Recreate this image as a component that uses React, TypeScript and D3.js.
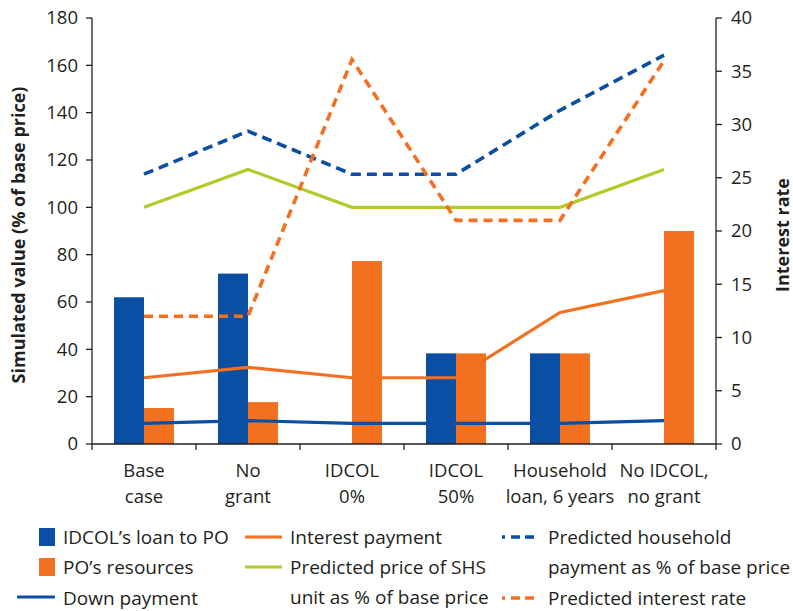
import React from 'react';
import * as d3 from 'd3';

const categories = ['Base case', 'No grant', 'IDCOL 0%', 'IDCOL 50%', 'Household loan, 6 years', 'No IDCOL, no grant'];
const categoryLines = [['Base', 'case'], ['No', 'grant'], ['IDCOL', '0%'], ['IDCOL', '50%'], ['Household', 'loan, 6 years'], ['No IDCOL,', 'no grant']];

const idcolLoan = [62, 72, 0, 38.3, 38.3, 0];
const poResources = [15.2, 17.7, 77.3, 38.3, 38.3, 90];
const interestPayment = [28, 32.4, 28, 28, 55.6, 64.8];
const downPayment = [8.7, 9.9, 8.7, 8.7, 8.7, 9.9];
const predictedPrice = [100, 116, 100, 100, 100, 116];
const householdPayment = [114, 132.2, 114, 114, 141, 164.3];
const interestRate = [12, 12, 36.1, 21, 21, 36]; // right axis

const leftTicks = d3.range(0, 181, 20);
const rightTicks = d3.range(0, 41, 5);

const BLUE = '#0a4fa3';
const ORANGE = '#f37021';
const GREEN = '#b5c92a';
const INK = '#231f20';
const FONT = '"Open Sans", sans-serif';

export default function App() {
  const W = 793, H = 611;
  const m = { top: 18, right: 77, bottom: 167, left: 92 };
  const x0 = m.left, x1 = W - m.right, yTop = m.top, yBot = H - m.bottom;

  const x = d3.scaleBand<string>().domain(categories).range([x0, x1]);
  const xSub = d3.scaleBand<string>().domain(['loan', 'po']).range([0, 60]);
  const yL = d3.scaleLinear().domain([0, 180]).range([yBot, yTop]);
  const yR = d3.scaleLinear().domain([0, 40]).range([yBot, yTop]);
  const cx = (c: string) => (x(c) ?? 0) + x.bandwidth() / 2;

  const lineL = d3.line<number>().x((_, i) => cx(categories[i])).y(d => yL(d));
  const lineR = d3.line<number>().x((_, i) => cx(categories[i])).y(d => yR(d));

  const barSeries = [
    { key: 'loan', vals: idcolLoan, color: BLUE },
    { key: 'po', vals: poResources, color: ORANGE },
  ];

  const lines = [
    { d: lineL(interestPayment), color: ORANGE, dash: undefined, w: 3.2 },
    { d: lineL(predictedPrice), color: GREEN, dash: undefined, w: 3.2 },
    { d: lineL(downPayment), color: BLUE, dash: undefined, w: 3.2 },
    { d: lineL(householdPayment), color: BLUE, dash: '10,6', w: 3.6 },
    { d: lineR(interestRate), color: ORANGE, dash: '9,6', w: 3.6 },
  ];

  const fs = 18.5;
  const lfs = 19;

  return (
    <svg width={W} height={H} style={{ position: 'absolute', left: 0, top: 0, background: '#fff' }} fontFamily={FONT}>
      {/* bars */}
      {categories.map(c => (
        <g key={c} transform={`translate(${cx(c) - 30},0)`}>
          {barSeries.map(s => {
            const v = s.vals[categories.indexOf(c)];
            if (!v) return null;
            return <rect key={s.key} x={xSub(s.key)} y={yL(v)} width={xSub.bandwidth()} height={yBot - yL(v)} fill={s.color} />;
          })}
        </g>
      ))}

      {/* lines */}
      {lines.map((l, i) => (
        <path key={i} d={l.d ?? ''} fill="none" stroke={l.color} strokeWidth={l.w} strokeDasharray={l.dash} />
      ))}

      {/* left axis */}
      <line x1={x0} x2={x0} y1={yTop} y2={yBot} stroke={INK} strokeWidth={1.3} />
      {leftTicks.map(t => (
        <g key={t}>
          <line x1={x0 - 6} x2={x0} y1={yL(t)} y2={yL(t)} stroke={INK} strokeWidth={1.3} />
          <text x={x0 - 14} y={yL(t)} dy="0.35em" textAnchor="end" fontSize={fs} fill={INK}>{t}</text>
        </g>
      ))}

      {/* right axis */}
      <line x1={x1} x2={x1} y1={yTop} y2={yBot} stroke={INK} strokeWidth={1.3} />
      {rightTicks.map(t => (
        <g key={t}>
          <line x1={x1} x2={x1 + 6} y1={yR(t)} y2={yR(t)} stroke={INK} strokeWidth={1.3} />
          <text x={x1 + 15} y={yR(t)} dy="0.35em" textAnchor="start" fontSize={fs} fill={INK}>{t}</text>
        </g>
      ))}

      {/* bottom axis */}
      <line x1={x0} x2={x1} y1={yBot} y2={yBot} stroke={INK} strokeWidth={1.3} />
      {[...categories.map(c => x(c) ?? 0), x1].map((p, i) => (
        <line key={i} x1={p} x2={p} y1={yBot} y2={yBot + 6} stroke={INK} strokeWidth={1.3} />
      ))}
      {categories.map((c, i) => (
        <text key={c} x={cx(c)} y={yBot + 33} textAnchor="middle" fontSize={fs} fill={INK}>
          <tspan x={cx(c)}>{categoryLines[i][0]}</tspan>
          <tspan x={cx(c)} dy={26}>{categoryLines[i][1]}</tspan>
        </text>
      ))}

      {/* axis titles */}
      <text transform={`translate(25,${(yTop + yBot) / 2 + 4}) rotate(-90)`} textAnchor="middle" fontSize={18} fontWeight="bold" fill={INK}>
        Simulated value (% of base price)
      </text>
      <text transform={`translate(789,${(yTop + yBot) / 2 + 4}) rotate(-90)`} textAnchor="middle" fontSize={18} fontWeight="bold" fill={INK}>
        Interest rate
      </text>

      {/* legend */}
      <g fontSize={lfs} fill={INK}>
        <rect x={39} y={528} width={16} height={18} fill={BLUE} />
        <text x={63} y={537} dy="0.35em">IDCOL’s loan to PO</text>
        <rect x={39} y={558} width={16} height={18} fill={ORANGE} />
        <text x={63} y={567} dy="0.35em">PO’s resources</text>
        <line x1={17} x2={55} y1={597} y2={597} stroke={BLUE} strokeWidth={3.2} />
        <text x={63} y={598} dy="0.35em">Down payment</text>

        <line x1={245} x2={282} y1={537} y2={537} stroke={ORANGE} strokeWidth={3.2} />
        <text x={290} y={537} dy="0.35em">Interest payment</text>
        <line x1={245} x2={282} y1={567} y2={567} stroke={GREEN} strokeWidth={3.2} />
        <text x={290} y={567} dy="0.35em">Predicted price of SHS</text>
        <text x={290} y={597} dy="0.35em">unit as % of base price</text>

        <line x1={502} x2={540} y1={537} y2={537} stroke={BLUE} strokeWidth={3.6} strokeDasharray="3,6,9,5,9,6,3" />
        <text x={548} y={537} dy="0.35em">Predicted household</text>
        <text x={548} y={567} dy="0.35em">payment as % of base price</text>
        <line x1={502} x2={540} y1={598} y2={598} stroke={ORANGE} strokeWidth={3.6} strokeDasharray="3,6,9,5,9,6,3" />
        <text x={548} y={598} dy="0.35em">Predicted interest rate</text>
      </g>
    </svg>
  );
}
